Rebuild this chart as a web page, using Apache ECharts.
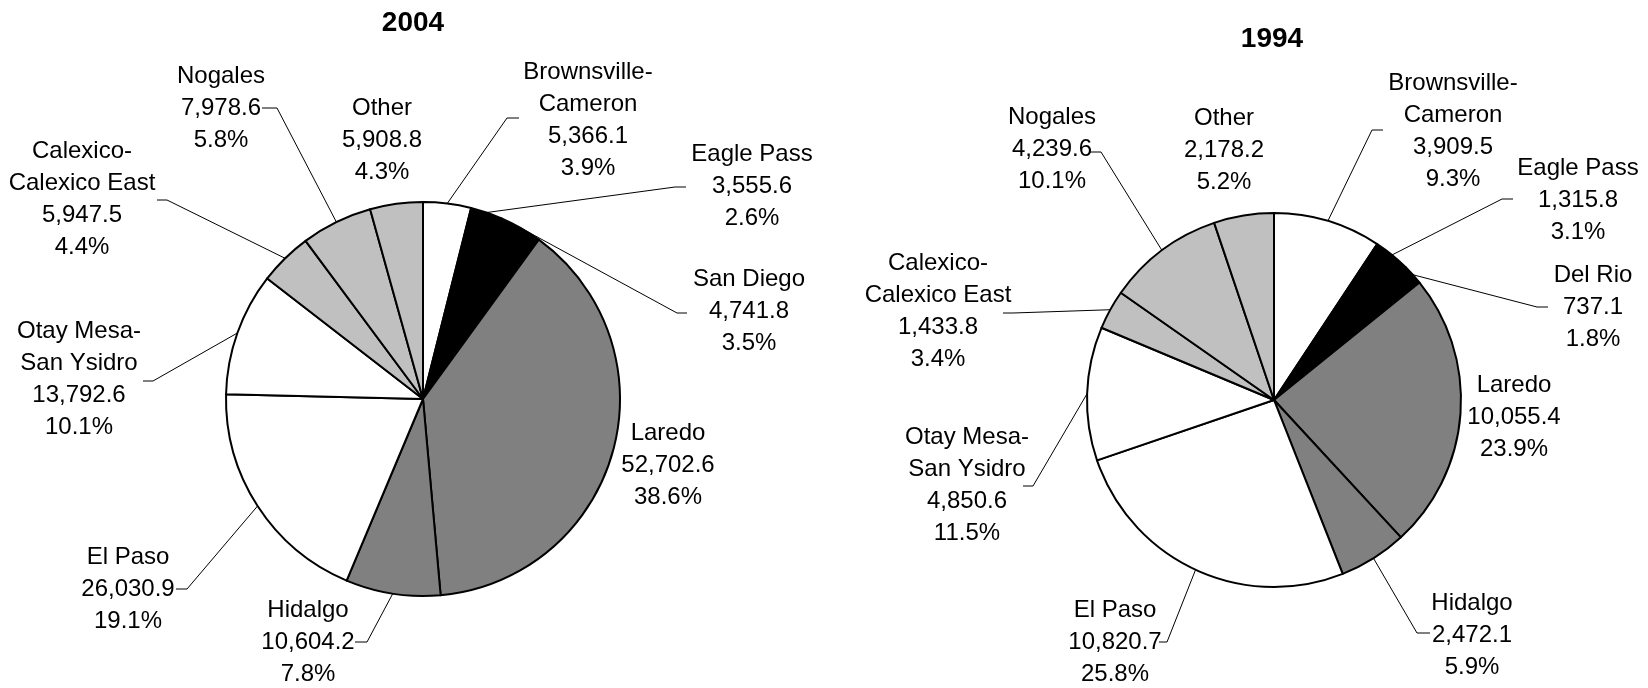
<!DOCTYPE html>
<html>
<head>
<meta charset="utf-8">
<title>Border crossings 2004 / 1994</title>
<script src="https://cdn.jsdelivr.net/npm/echarts@6/dist/echarts.min.js"></script>
<style>
  html, body { margin: 0; padding: 0; background: #ffffff; }
  #chart { width: 1648px; height: 688px; }
</style>
</head>
<body>
<div id="chart"></div>
<script>
// Ports of entry, clockwise from 12 o'clock
const PORTS_2004 = ['Brownsville-\nCameron', 'Eagle Pass', 'San Diego', 'Laredo', 'Hidalgo',
  'El Paso', 'Otay Mesa-\nSan Ysidro', 'Calexico-\nCalexico East', 'Nogales', 'Other'];
const VALUES_2004 = [5366.1, 3555.6, 4741.8, 52702.6, 10604.2, 26030.9, 13792.6, 5947.5, 7978.6, 5908.8];

const PORTS_1994 = ['Brownsville-\nCameron', 'Eagle Pass', 'Del Rio', 'Laredo', 'Hidalgo',
  'El Paso', 'Otay Mesa-\nSan Ysidro', 'Calexico-\nCalexico East', 'Nogales', 'Other'];
const VALUES_1994 = [3909.5, 1315.8, 737.1, 10055.4, 2472.1, 10820.7, 4850.6, 1433.8, 4239.6, 2178.2];

const YEARS = ['2004', '1994'];

// Slice fills, same order as the ports
const FILLS = ['#ffffff', '#000000', '#000000', '#808080', '#808080',
  '#ffffff', '#ffffff', '#c0c0c0', '#c0c0c0', '#c0c0c0'];

const FONT = '"Liberation Sans", Arial, sans-serif';

// Pie geometry and label placement (pixels)
const PIES = [
  { center: [423, 399], radius: 197, title: [413, 23] },
  { center: [1274, 400], radius: 187, title: [1272, 39] }
];
// label centre [x, y]; leader end [x, y] and elbow x (null = no leader)
const LABELS = [
  [
    { c: [588, 120], e: [519, 118], k: 507 },
    { c: [752, 186], e: [686, 187], k: 675 },
    { c: [749, 311], e: [687, 313], k: 677 },
    { c: [668, 465], e: null },
    { c: [308, 642], e: [355, 642], k: 367 },
    { c: [128, 589], e: [176, 589], k: 187 },
    { c: [79, 379],  e: [143, 381], k: 153 },
    { c: [82, 199],  e: [157, 200], k: 167 },
    { c: [221, 108], e: [262, 108], k: 277 },
    { c: [382, 140], e: null }
  ],
  [
    { c: [1453, 131], e: [1383, 130], k: 1372 },
    { c: [1578, 200], e: [1513, 199], k: 1502 },
    { c: [1593, 307], e: [1548, 307], k: 1537 },
    { c: [1514, 417], e: null },
    { c: [1472, 635], e: [1430, 633], k: 1417 },
    { c: [1115, 642], e: [1159, 642], k: 1167 },
    { c: [967, 485],  e: [1023, 486], k: 1033 },
    { c: [938, 311],  e: [1003, 313], k: 1013 },
    { c: [1052, 149], e: [1089, 152], k: 1101 },
    { c: [1224, 150], e: null }
  ]
];

function fmtValue(v) {
  return v.toLocaleString('en-US', { minimumFractionDigits: 1, maximumFractionDigits: 1 });
}

function makeSeries(idx, names, values) {
  const total = values.reduce((a, b) => a + b, 0);
  const pie = PIES[idx];
  const labels = LABELS[idx];
  return {
    type: 'pie',
    center: pie.center,
    radius: pie.radius,
    startAngle: 90,
    clockwise: true,
    avoidLabelOverlap: false,
    animation: false,
    silent: true,
    emphasis: { disabled: true },
    itemStyle: { borderColor: '#000000', borderWidth: 2 },
    label: {
      show: true,
      position: 'outside',
      color: '#000000',
      fontFamily: FONT,
      fontSize: 24,
      lineHeight: 32,
      formatter: (p) => p.name + '\n' + fmtValue(p.value) + '\n' + (p.value / total * 100).toFixed(1) + '%'
    },
    labelLine: { show: true, length: 10, length2: 10, lineStyle: { color: '#000000', width: 1 } },
    data: names.map((n, i) => ({
      name: n,
      value: values[i],
      itemStyle: { color: FILLS[i] },
      labelLine: { show: labels[i].e !== null }
    })),
    labelLayout: (params) => {
      const L = labels[params.dataIndex];
      const out = { x: L.c[0], y: L.c[1], align: 'center', verticalAlign: 'middle' };
      if (L.e && params.labelLinePoints) {
        const a = params.labelLinePoints[0];
        out.labelLinePoints = [[a[0], a[1]], [L.k, L.e[1]], [L.e[0], L.e[1]]];
      }
      return out;
    }
  };
}

const chart = echarts.init(document.getElementById('chart'), null, { renderer: 'canvas' });
chart.setOption({
  backgroundColor: '#ffffff',
  animation: false,
  graphic: YEARS.map((y, i) => ({
    type: 'text',
    x: PIES[i].title[0],
    y: PIES[i].title[1],
    style: {
      text: y,
      fill: '#000000',
      font: 'bold 28px ' + FONT,
      textAlign: 'center',
      textVerticalAlign: 'middle'
    }
  })),
  series: [
    makeSeries(0, PORTS_2004, VALUES_2004),
    makeSeries(1, PORTS_1994, VALUES_1994)
  ]
});
</script>
</body>
</html>
